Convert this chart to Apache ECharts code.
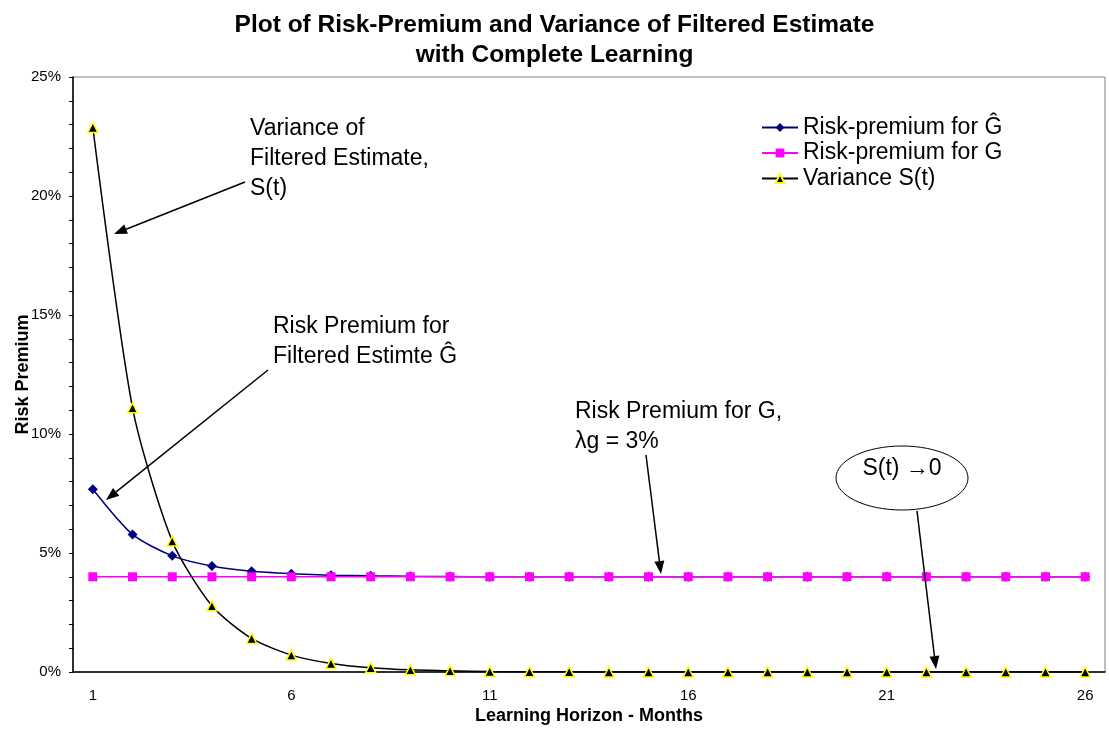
<!DOCTYPE html>
<html>
<head>
<meta charset="utf-8">
<script src="https://cdn.jsdelivr.net/npm/echarts@6/dist/echarts.min.js"></script>
<style>
  html, body { margin: 0; padding: 0; background: #fff; }
  #chart { width: 1109px; height: 729px; }
</style>
</head>
<body>
<div id="chart"></div>
<script>
// Learning horizon in months
const months = ['1','2','3','4','5','6','7','8','9','10','11','12','13','14','15','16','17','18','19','20','21','22','23','24','25','26'];
// Risk premium for the filtered estimate Ĝ (%)
const premiumGhat = [7.68, 5.78, 4.88, 4.45, 4.23, 4.13, 4.07, 4.04, 4.02, 4.01, 4.0, 4.0, 4.0, 4.0, 4.0, 4.0, 4.0, 4.0, 4.0, 4.0, 4.0, 4.0, 4.0, 4.0, 4.0, 4.0];
// Risk premium for G (%)
const premiumG = [4, 4, 4, 4, 4, 4, 4, 4, 4, 4, 4, 4, 4, 4, 4, 4, 4, 4, 4, 4, 4, 4, 4, 4, 4, 4];
// Variance of the filtered estimate S(t) (%)
const varianceS = [22.88, 11.1, 5.5, 2.78, 1.41, 0.71, 0.36, 0.18, 0.09, 0.05, 0.02, 0.01, 0.01, 0, 0, 0, 0, 0, 0, 0, 0, 0, 0, 0, 0, 0];
// Y axis range (%)
const yMin = 0, yMax = 25, yStep = 5;

const FONT = 'Arial, "Liberation Sans", sans-serif';

// Line segment with a filled arrowhead at its end
function arrow(x1, y1, x2, y2) {
  const a = Math.atan2(y2 - y1, x2 - x1);
  const len = 13, half = 5;
  const bx = x2 - len * Math.cos(a), by = y2 - len * Math.sin(a);
  const px = -Math.sin(a) * half, py = Math.cos(a) * half;
  return [
    { type: 'line', shape: { x1: x1, y1: y1, x2: bx, y2: by }, style: { stroke: '#000', lineWidth: 1.5 }, z: 100 },
    { type: 'polygon', shape: { points: [[x2, y2], [bx + px, by + py], [bx - px, by - py]] }, style: { fill: '#000' }, z: 100 }
  ];
}

function note(x, y, text) {
  return { type: 'text', left: x, top: y, z: 100,
    style: { text: text, font: '23px ' + FONT, fill: '#000', lineHeight: 30 } };
}

const chart = echarts.init(document.getElementById('chart'));
chart.setOption({
  backgroundColor: '#fff',
  animation: false,
  title: {
    text: 'Plot of Risk-Premium and Variance of Filtered Estimate\nwith Complete Learning',
    left: 'center', top: 5,
    textStyle: { fontFamily: FONT, fontSize: 24.5, fontWeight: 'bold', color: '#000', lineHeight: 30 }
  },
  legend: {
    orient: 'vertical', left: 756, top: 111,
    itemWidth: 36, itemHeight: 11, itemGap: 2.5,
    textStyle: { fontFamily: FONT, fontSize: 23, color: '#000' },
    data: ['Risk-premium for Ĝ', 'Risk-premium for G', 'Variance S(t)']
  },
  grid: {
    left: 73, right: 4, top: 77, bottom: 57,
    outerBoundsMode: 'none',
    show: true, borderColor: '#808080', borderWidth: 1
  },
  xAxis: {
    type: 'category', data: months, boundaryGap: true,
    name: 'Learning Horizon - Months', nameLocation: 'middle', nameGap: 35, nameMoveOverlap: false,
    nameTextStyle: { fontFamily: FONT, fontSize: 18, fontWeight: 'bold', color: '#000' },
    axisLine: { lineStyle: { color: '#000', width: 1.5 } },
    axisTick: { interval: 0, length: 5, lineStyle: { color: '#000' } },
    axisLabel: { interval: 4, fontFamily: FONT, fontSize: 15, color: '#000', margin: 16 },
    splitLine: { show: false }
  },
  yAxis: {
    type: 'value', min: yMin, max: yMax, interval: yStep,
    name: 'Risk Premium', nameLocation: 'middle', nameGap: 41, nameRotate: 90, nameMoveOverlap: false,
    nameTextStyle: { fontFamily: FONT, fontSize: 18, fontWeight: 'bold', color: '#000' },
    axisLine: { show: true, lineStyle: { color: '#000', width: 1.5 } },
    axisTick: { show: true, length: 4, lineStyle: { color: '#000' } },
    minorTick: { show: true, splitNumber: 5, length: 4, lineStyle: { color: '#000' } },
    axisLabel: { formatter: '{value}%', fontFamily: FONT, fontSize: 15, color: '#000', margin: 12 },
    splitLine: { show: false }
  },
  series: [
    {
      name: 'Risk-premium for Ĝ', type: 'line', data: premiumGhat,
      symbol: 'diamond', symbolSize: 10, smooth: 0.25,
      lineStyle: { color: '#000080', width: 1.5 },
      itemStyle: { color: '#000080' }, z: 3
    },
    {
      name: 'Risk-premium for G', type: 'line', data: premiumG,
      symbol: 'rect', symbolSize: 9,
      lineStyle: { color: '#ff00ff', width: 1.5 },
      itemStyle: { color: '#ff00ff' }, z: 4
    },
    {
      name: 'Variance S(t)', type: 'line', data: varianceS,
      symbol: 'triangle', symbolSize: 10, smooth: 0.25,
      lineStyle: { color: '#000', width: 1.5 },
      itemStyle: { color: '#000', borderColor: '#ffff00', borderWidth: 1.5 }, z: 5
    }
  ],
  graphic: [
    note(250, 114, 'Variance of\nFiltered Estimate,\nS(t)'),
    ...arrow(245, 182, 114, 234),
    note(273, 312, 'Risk Premium for\nFiltered Estimte Ĝ'),
    ...arrow(268, 370, 106, 500),
    note(575, 397, 'Risk Premium for G,\nλg = 3%'),
    ...arrow(646, 455, 661, 574),
    { type: 'ellipse', shape: { cx: 902, cy: 478, rx: 66, ry: 32 }, style: { fill: '#fff', stroke: '#000', lineWidth: 1 }, z: 100 },
    { type: 'text', x: 902, y: 469, z: 101,
      style: { text: 'S(t) →0', font: '23px ' + FONT, fill: '#000', align: 'center', verticalAlign: 'middle' } },
    ...arrow(917, 511, 936, 669)
  ]
});
</script>
</body>
</html>
